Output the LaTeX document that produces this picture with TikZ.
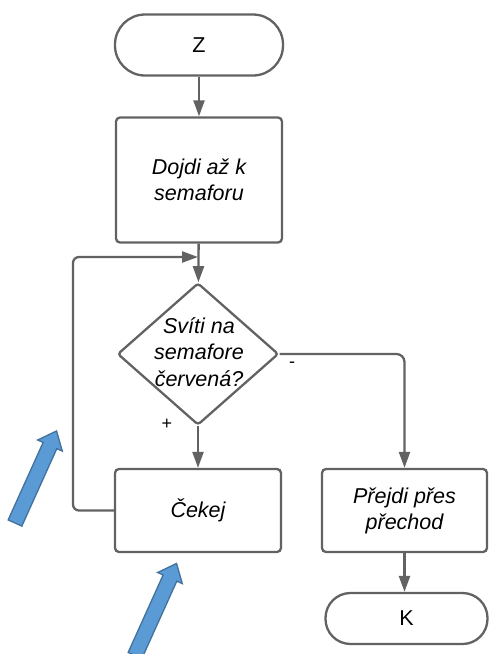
\documentclass[tikz,border=0pt]{standalone}
\usepackage{fontspec}
\setmainfont{Liberation Sans}
\usetikzlibrary{shapes.geometric,arrows.meta}
\definecolor{lc}{HTML}{626262}
\definecolor{bfill}{HTML}{5B9BD5}
\definecolor{bdraw}{HTML}{41719C}
\tikzset{
  box/.style={draw=lc, line width=2.3pt, rounded corners=4pt, rectangle, align=center,
    font=\fontsize{21.5}{26}\selectfont\itshape, inner sep=0pt},
  term/.style={draw=lc, line width=2.3pt, rectangle, align=center,
    font=\fontsize{21.5}{26}\selectfont, inner sep=0pt},
  decision/.style={draw=lc, line width=2.3pt, diamond, rounded corners=3pt, inner sep=0pt},
  dectxt/.style={align=center, font=\fontsize{21.5}{26.5}\selectfont\itshape, inner sep=0pt},
  conn/.style={draw=lc, line width=2.3pt, -{Triangle[length=16pt,width=11pt]}},
  sign/.style={font=\fontsize{18}{20}\selectfont, inner sep=0pt},
  blue arrow/.style={fill=bfill, draw=bdraw, line width=1.3pt, line join=miter}
}
\begin{document}
\begin{tikzpicture}[x=1pt,y=-1pt]
\useasboundingbox (0,0) rectangle (489,654);

\node[term, minimum width=168pt, minimum height=61pt, rounded corners=30pt] (z) at (199,45) {Z};
\node[box, minimum width=166pt, minimum height=125pt] (dojdi) at (199,180) {Dojdi až k\\semaforu};
\node[decision, minimum width=161pt, minimum height=142pt] (dec) at (198,354) {};
\node[dectxt] (dect) at (199,352) {Svíti na\\semafore\\červená?};
\node[box, minimum width=166pt, minimum height=83pt] (cekej) at (198,510.5) {Čekej};
\node[box, minimum width=165pt, minimum height=83pt] (prejdi) at (404.5,510.5) {Přejdi přes\\přechod};
\node[term, minimum width=162pt, minimum height=51pt, rounded corners=25pt] (k) at (406.5,618.5) {K};

\coordinate (join) at (dojdi.south |- 0,257);
\coordinate (loopl) at (73,0);

\draw[conn] (z) -- (dojdi);
\draw[conn] (dojdi) -- (dec);
\draw[conn, rounded corners=6pt] (cekej.west) -| (loopl |- join) -- ([xshift=-1pt]join);
\draw[conn] (dec) -- (cekej);
\draw[conn, rounded corners=8pt] (dec.east) -| (prejdi.north);
\draw[conn] (prejdi.south) -- (prejdi.south |- k.north);

\node[sign] (minus) at (292,365) {-};
\node[sign] (plus) at (167,424) {+};

\begin{scope}[shift={(15,523)}, rotate=65.7]
  \path[blue arrow] (0,-7.5) -- (85,-7.5) -- (85,-13.5) -- (101,0) -- (85,13.5) -- (85,7.5) -- (0,7.5) -- cycle;
\end{scope}
\begin{scope}[shift={(135,655.5)}, rotate=65.7]
  \path[blue arrow] (0,-7.5) -- (85,-7.5) -- (85,-13.5) -- (101,0) -- (85,13.5) -- (85,7.5) -- (0,7.5) -- cycle;
\end{scope}
\end{tikzpicture}
\end{document}
